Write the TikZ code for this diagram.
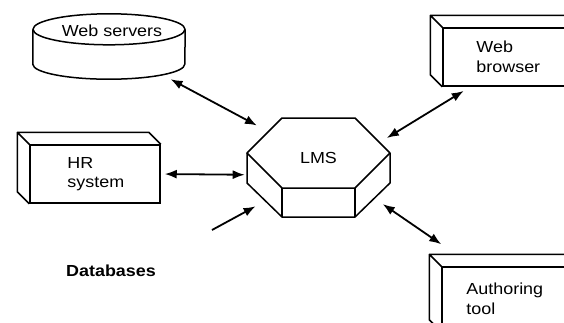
\documentclass[tikz,border=0pt]{standalone}
\usepackage{fontspec}
\setmainfont{Liberation Sans}[FakeStretch=1.12]
\usetikzlibrary{arrows.meta, positioning, calc}

% top and left faces of a box drawn in perspective
\newcommand{\boxsides}[1]{%
  \draw[edge] (#1.north east) -- ++(-12,-12) -- ($(#1.north west)+(-12,-12)$)
    -- ($(#1.south west)+(-12,-12)$) -- (#1.south west)
    (#1.north west) -- ++(-12,-12);
}

\begin{document}
\begin{tikzpicture}[
  x=1pt, y=-1pt,
  >={Latex[length=12pt,width=9pt]},
  font=\fontsize{16}{19.5}\selectfont,
  edge/.style={line width=1.5pt, line join=round},
  box/.style={rectangle, draw, line width=1.5pt, inner sep=0pt},
  boxtext/.style={align=left, inner sep=0pt},
  hub/.style={circle, minimum size=148pt, inner sep=0pt},
  link/.style={<->, line width=1.8pt}
]
\useasboundingbox (0,0) rectangle (564,322);
\clip (0,0) rectangle (564,322);
% -------------------------------------------------------------------------
% SYSTEMS AROUND THE LMS
% -------------------------------------------------------------------------
\node[minimum width=152pt, minimum height=65pt, inner sep=0pt] (websrv) at (109,46.5) {};
\draw[edge] ($(websrv.north)+(0,15.5)$) ellipse [x radius=76pt, y radius=15.5pt];
\draw[edge] ($(websrv.north west)+(0,15.5)$) -- ($(websrv.south west)+(0,-15)$)
  arc[start angle=180, end angle=360, x radius=76pt, y radius=15pt]
  -- ($(websrv.north east)+(0,15.5)$);
\node (websrvtext) at ($(websrv.north)+(3,17)$) {Web servers};

\node[box, minimum width=130pt, minimum height=58pt] (hr) at (95,174) {};
\node[box, minimum width=140pt, minimum height=58pt] (browser) at (513,57) {};
\node[box, minimum width=140pt, minimum height=64pt] (author) at (512,299) {};
\boxsides{hr}
\boxsides{browser}
\boxsides{author}
\node[boxtext, right=38pt of hr.west] (hrtext) {HR\\system};
\node[boxtext, right=34pt of browser.west] (browsertext) {Web\\browser};
\node[boxtext, right=25pt of author.west] (authortext) {Authoring\\tool};

\node[font=\fontsize{16}{19.5}\selectfont\bfseries] (db) at (111,271) {Databases};

% LMS block
\node[hub] (lms) at (318.5,167) {};
\draw[edge] (247,153) -- (282,118) -- (355,118) -- (390,153) -- (355,188) -- (282,188) -- cycle;
\draw[edge] (247,153) -- (247,183) -- (282,217) -- (355,217) -- (390,183) -- (390,153);
\draw[edge] (282,188) -- (282,217) (355,188) -- (355,217);
\node (lmstext) at (318.5,158) {LMS};

% links
\coordinate (dbport) at (212,230);
\draw[link] (websrv.-28) -- (lms.146);
\draw[link, shorten <=8pt] (browser.215) -- (lms.23);
\draw[link, shorten <=4pt] (hr.east) -- (lms.186);
\draw[link, ->] (dbport) -- (lms.212);
\draw[link] (lms.330) -- ([shift={(0,-22)}]author.north west);
\end{tikzpicture}
\end{document}
